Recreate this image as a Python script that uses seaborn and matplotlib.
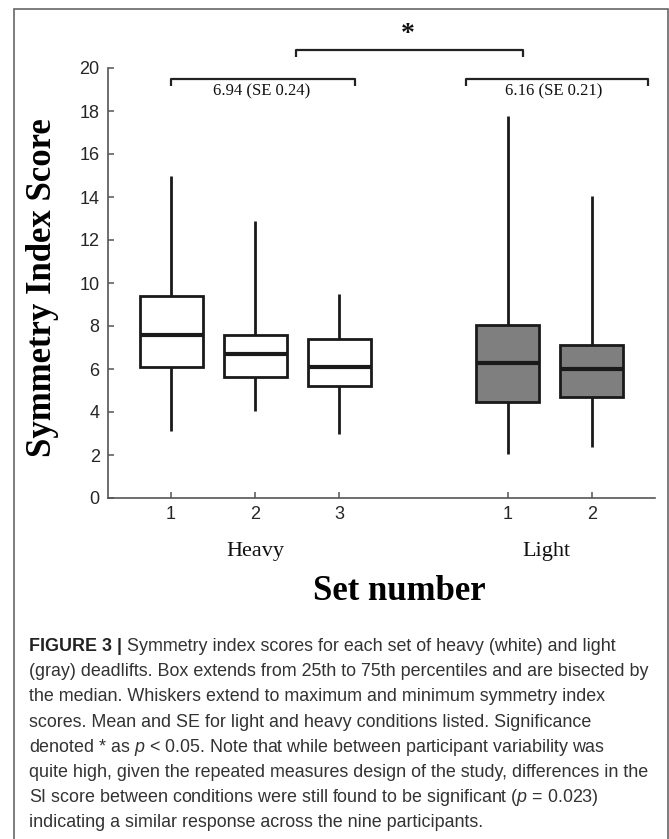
import matplotlib
matplotlib.use("Agg")
import matplotlib.pyplot as plt
import matplotlib.patches as mpatches
import seaborn as sns
import pandas as pd

# ---- data: min, q1, median, q3, max per set ----
heavy_sets = [1, 2, 3]
light_sets = [1, 2]
heavy_pos = [1, 2, 3]
light_pos = [5, 6]
heavy_1 = [3.1, 6.1, 7.6, 9.4, 15.0]
heavy_2 = [4.05, 5.65, 6.7, 7.6, 12.9]
heavy_3 = [3.0, 5.2, 6.1, 7.4, 9.5]
light_1 = [2.05, 4.45, 6.3, 8.05, 17.75]
light_2 = [2.35, 4.7, 6.0, 7.1, 14.05]
heavy_label = "6.94 (SE 0.24)"
light_label = "6.16 (SE 0.21)"

sns.set_style("white")
plt.rcParams["font.family"] = ["Liberation Sans", "DejaVu Sans"]
plt.rcParams["mathtext.fontset"] = "custom"
plt.rcParams["mathtext.rm"] = "Liberation Sans"
plt.rcParams["mathtext.it"] = "Liberation Sans:italic"
plt.rcParams["mathtext.bf"] = "Liberation Sans:bold"

rows = []
for pos, vals in zip(heavy_pos, [heavy_1, heavy_2, heavy_3]):
    for v in vals:
        rows.append({"pos": pos, "score": v, "cond": "Heavy"})
for pos, vals in zip(light_pos, [light_1, light_2]):
    for v in vals:
        rows.append({"pos": pos, "score": v, "cond": "Light"})
df = pd.DataFrame(rows)

W, H = 669, 839
fig = plt.figure(figsize=(W / 100, H / 100), dpi=100)
ax = fig.add_axes([108 / W, 1 - 498 / H, (655 - 108) / W, (498 - 68) / H])

line_c = "#1a1a1a"
sns.boxplot(data=df, x="pos", y="score", hue="cond", native_scale=True,
            dodge=False, whis=(0, 100), width=0.75, showcaps=False,
            palette={"Heavy": "white", "Light": "#7f7f7f"},
            linecolor=line_c, linewidth=2.0, fliersize=0,
            medianprops={"linewidth": 3.0, "color": line_c},
            legend=False, ax=ax)

ax.set_xlim(0.25, 6.75)
ax.set_ylim(0, 20)
ax.set_yticks(range(0, 21, 2))
ax.set_xticks(heavy_pos + light_pos)
ax.set_xticklabels([str(s) for s in heavy_sets + light_sets])
ax.set_xlabel("")
ax.set_ylabel("")
for s in ["top", "right"]:
    ax.spines[s].set_visible(False)
for s in ["left", "bottom"]:
    ax.spines[s].set_color("#555555")
    ax.spines[s].set_linewidth(1.2)
ax.tick_params(direction="in", length=4, width=1.1, color="#555555",
               labelsize=13, labelcolor="#262626", pad=6,
               left=True, bottom=True)

# brackets
bk = dict(color="#222222", lw=1.6, clip_on=False, solid_capstyle="butt")
ax.plot([1.0, 1.0, 3.18, 3.18], [19.15, 19.47, 19.47, 19.15], **bk)
ax.plot([4.5, 4.5, 6.67, 6.67], [19.15, 19.47, 19.47, 19.15], **bk)
ax.plot([2.48, 2.48, 5.18, 5.18], [20.5, 20.84, 20.84, 20.5], **bk)
serif = ["Liberation Serif", "DejaVu Serif"]
ax.text(2.07, 18.9, heavy_label, ha="center", va="center", fontsize=12,
        family=serif, color="#111111")
ax.text(5.55, 18.9, light_label, ha="center", va="center", fontsize=12,
        family=serif, color="#111111")
ax.text(3.81, 21.55, "*", ha="center", va="center", fontsize=20,
        fontweight="bold", family=serif, color="#111111")

# group labels
ax.text(2.0, -2.5, "Heavy", ha="center", va="center", fontsize=16,
        family=serif, color="#111111")
ax.text(5.46, -2.5, "Light", ha="center", va="center", fontsize=16,
        family=serif, color="#111111")

fig.text(399 / W, 1 - 591 / H, "Set number", ha="center", va="center",
         fontsize=25, fontweight="bold", family=serif, color="black")
fig.text(43 / W, 1 - 288 / H, "Symmetry Index Score", ha="center",
         va="center", rotation=90, fontsize=25, fontweight="bold",
         family=serif, color="black")

# caption
cap_size = 12.9
cap_color = "#333333"
cap_lines = [
    "Symmetry index scores for each set of heavy (white) and light",
    "(gray) deadlifts. Box extends from 25th to 75th percentiles and are bisected by",
    "the median. Whiskers extend to maximum and minimum symmetry index",
    "scores. Mean and SE for light and heavy conditions listed. Significance",
    r"denoted * as $p$ < 0.05. Note that while between participant variability was",
    "quite high, given the repeated measures design of the study, differences in the",
    r"SI score between conditions were still found to be significant ($p$ = 0.023)",
    "indicating a similar response across the nine participants.",
]
x0 = 28.6 / W
bold = fig.text(x0, 1 - 651 / H, "FIGURE 3 | ", ha="left", va="baseline",
                fontsize=cap_size, fontweight="bold", color="#222222")
renderer = fig.canvas.get_renderer()
bb = bold.get_window_extent(renderer=renderer)
for i, line in enumerate(cap_lines):
    xs = bb.x1 / W if i == 0 else x0
    fig.text(xs, 1 - (651 + 25.2 * i) / H, line, ha="left",
             va="baseline", fontsize=cap_size, color=cap_color)

# outer border
rect = mpatches.Rectangle((14 / W, -0.05), (668 - 14) / W, 1.05 - 9 / H,
                          transform=fig.transFigure, fill=False,
                          edgecolor="#666666", lw=1.2, clip_on=False)
fig.add_artist(rect)

fig.savefig("out.png", dpi=100)
